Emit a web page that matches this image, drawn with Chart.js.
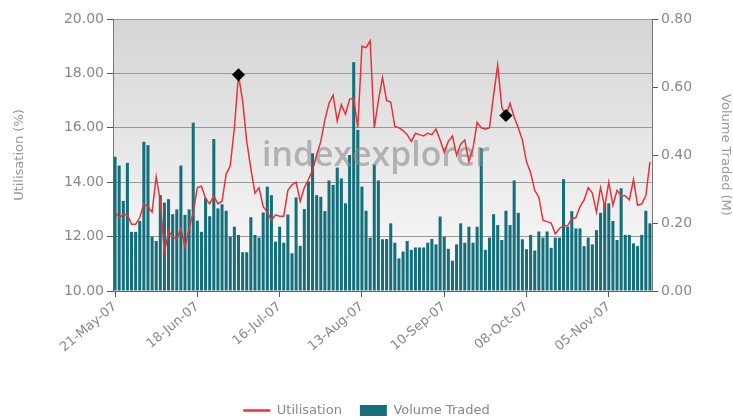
<!DOCTYPE html>
<html>
<head>
<meta charset="utf-8">
<script src="https://cdn.jsdelivr.net/npm/chart.js@4"></script>
<style>
html, body { margin: 0; padding: 0; background: #fff; }
</style>
</head>
<body>
<canvas id="chart" width="733" height="420"></canvas>
<script>
// 数据
const startDate = new Date(2007, 4, 21);   // 21-May-07, first trading day
const tradingDays = 131;
const tickEvery = 20;                      // one label every 4 weeks

const utilisation = [
    12.9, 12.7, 12.8, 12.8, 12.45, 12.45, 12.7, 13.2, 13.1, 12.9,
    14.2, 13.3, 11.4, 12.2, 12.0, 11.9, 12.3, 11.6, 12.3, 12.9,
    13.8, 13.85, 13.4, 13.2, 13.5, 13.2, 13.3, 14.3, 14.6, 16.0,
    17.95, 17.0, 15.5, 14.5, 13.6, 13.8, 13.1, 12.9, 12.6, 12.8,
    12.75, 12.75, 13.7, 13.9, 14.0, 13.3, 13.8, 14.1, 14.45, 15.0,
    15.5, 16.3, 16.9, 17.2, 16.25, 16.85, 16.5, 17.05, 17.1, 16.0,
    19.0, 18.95, 19.2, 16.0, 17.0, 17.85, 17.0, 16.95, 16.05, 16.0,
    15.9, 15.75, 15.5, 15.8, 15.75, 15.7, 15.8, 15.75, 15.95, 15.55,
    15.1, 15.5, 15.7, 15.0, 15.4, 15.55, 14.75, 15.25, 16.2, 16.0,
    15.95, 16.0, 17.2, 18.3, 16.75, 16.45, 16.9, 16.4, 16.0, 15.55,
    14.75, 14.35, 13.7, 13.45, 12.6, 12.55, 12.5, 12.1, 12.3, 12.4,
    12.4, 12.65, 12.7, 13.1, 13.35, 13.8, 13.6, 12.9, 13.8, 13.1,
    14.0, 13.15, 13.7, 13.5, 13.5, 13.35, 14.1, 13.15, 13.2, 13.5,
    14.75
];

const volumeTraded = [
    0.395, 0.369, 0.265, 0.377, 0.174, 0.174, 0.206, 0.439, 0.429, 0.16,
    0.147, 0.282, 0.26, 0.27, 0.226, 0.24, 0.369, 0.224, 0.24, 0.495,
    0.207, 0.174, 0.274, 0.22, 0.447, 0.243, 0.255, 0.236, 0.16, 0.189,
    0.165, 0.114, 0.114, 0.217, 0.165, 0.157, 0.231, 0.307, 0.282, 0.145,
    0.189, 0.142, 0.225, 0.111, 0.275, 0.133, 0.241, 0.322, 0.405, 0.282,
    0.277, 0.235, 0.325, 0.312, 0.363, 0.331, 0.258, 0.4, 0.673, 0.474,
    0.307, 0.236, 0.157, 0.373, 0.325, 0.152, 0.153, 0.199, 0.142, 0.096,
    0.116, 0.147, 0.121, 0.128, 0.128, 0.128, 0.142, 0.153, 0.137, 0.219,
    0.16, 0.124, 0.089, 0.137, 0.199, 0.142, 0.189, 0.142, 0.189, 0.42,
    0.121, 0.157, 0.226, 0.194, 0.15, 0.236, 0.194, 0.325, 0.23, 0.152,
    0.123, 0.165, 0.119, 0.175, 0.157, 0.175, 0.127, 0.157, 0.157, 0.329,
    0.189, 0.235, 0.184, 0.184, 0.132, 0.157, 0.137, 0.179, 0.23, 0.258,
    0.258, 0.206, 0.15, 0.302, 0.165, 0.165, 0.14, 0.132, 0.165, 0.236,
    0.199
];

// 标记点 (black diamonds)
const markerIndices = [30, 95];

const utilTicks = { min: 10, max: 20, step: 2 };
const volumeTicks = { min: 0, max: 0.8, step: 0.2 };

const FONT = '"DejaVu Sans", Verdana, sans-serif';
const RED = '#e8323a';
const TEAL = '#156f7b';

// 交易日标签 (weekdays only)
function buildDateLabels() {
    const months = ['Jan','Feb','Mar','Apr','May','Jun','Jul','Aug','Sep','Oct','Nov','Dec'];
    const labels = [];
    const d = new Date(startDate);
    while (labels.length < tradingDays) {
        const wd = d.getDay();
        if (wd !== 0 && wd !== 6) {
            const dd = String(d.getDate()).padStart(2, '0');
            const yy = String(d.getFullYear()).slice(2);
            labels.push(dd + '-' + months[d.getMonth()] + '-' + yy);
        }
        d.setDate(d.getDate() + 1);
    }
    return labels;
}

const dateLabels = buildDateLabels();
const markerData = utilisation.map((v, i) => markerIndices.includes(i) ? v : null);

// 背景渐变
const plotBackground = {
    id: 'plotBackground',
    beforeDraw(chart) {
        const { ctx, chartArea: a } = chart;
        const g = ctx.createLinearGradient(0, a.top, 0, a.bottom);
        g.addColorStop(0, '#d5d5d5');
        g.addColorStop(1, '#fbfbfb');
        ctx.save();
        ctx.fillStyle = g;
        ctx.fillRect(a.left, a.top, a.right - a.left, a.bottom - a.top);
        ctx.restore();
    }
};

// 水印
const watermark = {
    id: 'watermark',
    afterDatasetDraw(chart, args) {
        if (args.index !== 1) return;
        const ctx = chart.ctx;
        const text = 'indexexplorer';
        ctx.save();
        ctx.font = '600 36px "Open Sans", sans-serif';
        const w = ctx.measureText(text).width;
        const size = 36 * 228 / w;
        ctx.font = '600 ' + size.toFixed(1) + 'px "Open Sans", sans-serif';
        ctx.fillStyle = 'rgba(140,140,140,0.6)';
        ctx.textAlign = 'center';
        ctx.textBaseline = 'alphabetic';
        ctx.fillText(text, 376, 166);
        ctx.restore();
    }
};

function initChart() {
    const ctx = document.getElementById('chart');
    new Chart(ctx, {
        data: {
            labels: dateLabels,
            datasets: [{
                type: 'line',
                label: 'Utilisation',
                data: utilisation,
                yAxisID: 'y',
                borderColor: RED,
                backgroundColor: RED,
                borderWidth: 1.5,
                pointRadius: 0,
                tension: 0,
                order: 1
            }, {
                type: 'bar',
                label: 'Volume Traded',
                data: volumeTraded,
                yAxisID: 'y1',
                backgroundColor: TEAL,
                barPercentage: 0.74,
                categoryPercentage: 1,
                order: 2
            }, {
                type: 'line',
                label: 'markers',
                data: markerData,
                yAxisID: 'y',
                showLine: false,
                pointStyle: 'rectRot',
                pointRadius: 6,
                pointBackgroundColor: '#000',
                pointBorderColor: '#000',
                order: 0
            }]
        },
        options: {
            responsive: false,
            devicePixelRatio: 1,
            animation: false,
            layout: { padding: { top: 19, left: 0, right: 0, bottom: -7 } },
            plugins: {
                tooltip: { enabled: false },
                legend: {
                    position: 'bottom',
                    labels: {
                        usePointStyle: true,
                        pointStyleWidth: 27,
                        boxHeight: 11,
                        padding: 18,
                        color: '#888',
                        font: { family: FONT, size: 13 },
                        filter: item => item.datasetIndex !== 2,
                        generateLabels(chart) {
                            const items = Chart.defaults.plugins.legend.labels.generateLabels(chart);
                            items.forEach(it => {
                                if (it.datasetIndex === 0) {
                                    it.pointStyle = 'line';
                                    it.lineWidth = 2.5;
                                    it.strokeStyle = RED;
                                } else if (it.datasetIndex === 1) {
                                    it.pointStyle = 'rect';
                                    it.lineWidth = 0;
                                    it.fillStyle = TEAL;
                                }
                            });
                            return items;
                        }
                    }
                }
            },
            scales: {
                x: {
                    type: 'category',
                    offset: true,
                    grid: { offset: false, drawOnChartArea: false, tickLength: 6, color: '#555' },
                    border: { color: '#666' },
                    ticks: {
                        autoSkip: false,
                        minRotation: 40,
                        maxRotation: 40,
                        color: '#888',
                        padding: 2,
                        font: { family: FONT, size: 13 }
                    },
                    afterBuildTicks(scale) {
                        scale.ticks = scale.ticks.filter(t => t.value % tickEvery === 0);
                    },
                    afterFit(scale) { scale.height = 95; }
                },
                y: {
                    position: 'left',
                    min: utilTicks.min,
                    max: utilTicks.max,
                    ticks: {
                        stepSize: utilTicks.step,
                        color: '#888',
                        padding: 3,
                        font: { family: FONT, size: 14 },
                        callback: v => Number(v).toFixed(2)
                    },
                    grid: { color: '#999', tickColor: '#555', tickLength: 6 },
                    border: { color: '#777' },
                    title: {
                        display: true,
                        text: 'Utilisation (%)',
                        color: '#999',
                        padding: { top: 12, bottom: 0 },
                        font: { family: FONT, size: 13 }
                    },
                    afterFit(scale) { scale.width = 113; }
                },
                y1: {
                    position: 'right',
                    min: volumeTicks.min,
                    max: volumeTicks.max,
                    ticks: {
                        stepSize: volumeTicks.step,
                        color: '#888',
                        padding: 3,
                        font: { family: FONT, size: 14 },
                        callback: v => Number(v).toFixed(2)
                    },
                    grid: { drawOnChartArea: false, tickColor: '#555', tickLength: 6 },
                    border: { color: '#777' },
                    title: {
                        display: true,
                        text: 'Volume Traded (M)',
                        color: '#999',
                        padding: { top: 0, bottom: 0 },
                        font: { family: FONT, size: 13 }
                    },
                    afterFit(scale) { scale.width = 81; }
                }
            }
        },
        plugins: [plotBackground, watermark]
    });
}

initChart();
</script>
</body>
</html>
